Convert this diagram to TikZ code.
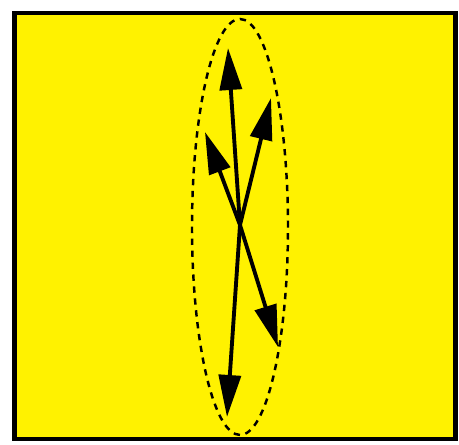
\documentclass[tikz,border=0pt]{standalone}
\usepackage{tikz}
\usetikzlibrary{arrows.meta}
\usepackage{xcolor}
\tikzset{
  frame/.style  = {draw=black, fill=yellow, line width=1.4pt},
  spread/.style = {draw=black, dashed, line width=0.7pt,
                   dash pattern=on 1.8pt off 1.6pt},
  vec/.style    = {-{Triangle[length=0.42cm, width=0.22cm]},
                   line width=1.1pt, draw=black}
}
\begin{document}
\begin{tikzpicture}
\useasboundingbox (0,0) rectangle (4.59,4.45);
% Box and spread of directions
\draw[frame] (0.145,0.06) rectangle (4.555,4.32);
\draw[spread] (2.40,2.18) ellipse [x radius=0.48, y radius=2.08];
% Common origin and arrow tips
\coordinate (o)  at (2.40,2.20);
\coordinate (up) at (2.28,3.97);
\coordinate (ur) at (2.71,3.47);
\coordinate (ul) at (2.05,3.13);
\coordinate (dn) at (2.27,0.28);
\coordinate (dr) at (2.78,0.98);
\foreach \t in {up, ur, ul, dn, dr} {
  \draw[vec] (o) -- (\t);
}
\end{tikzpicture}
\end{document}
